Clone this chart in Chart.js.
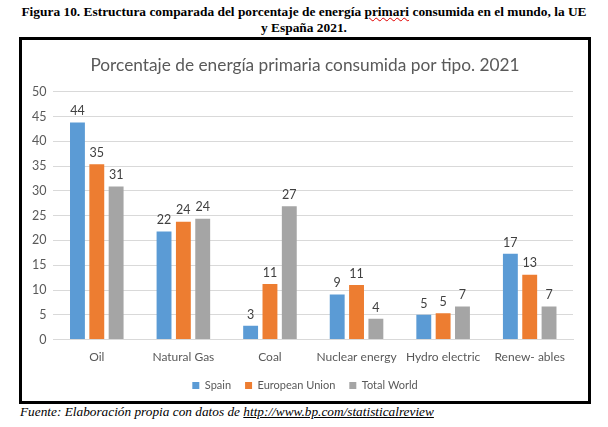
<!DOCTYPE html>
<html>
<head>
<meta charset="utf-8">
<script src="https://cdn.jsdelivr.net/npm/chart.js@4.4.1/dist/chart.umd.min.js"></script>
<style>
    body { margin: 0; background: #fff; width: 608px; height: 427px; position: relative; overflow: hidden; }
    #fig-title {
        position: absolute; top: 4px; left: 0; width: 608px;
        text-align: center; font: bold 13.4px "Liberation Serif", serif; line-height: 16px; color: #000;
    }
    #fig-title .typo { text-decoration: underline wavy #e00000; text-decoration-thickness: 1px; }
    #box {
        position: absolute; left: 19px; top: 37px; width: 566px; height: 361px;
        border: 3px solid #000; background: #fff;
    }
    #source {
        position: absolute; left: 20px; top: 404px;
        font: italic 13.3px "Liberation Serif", serif; color: #000;
    }
    #source span { text-decoration: underline; }
</style>
</head>
<body>
<div id="fig-title">Figura 10. Estructura comparada del porcentaje de energía <span class="typo">primari</span> consumida en el mundo, la UE<br>y España 2021.</div>
<div id="box"><canvas id="energyChart" width="566" height="361"></canvas></div>
<div id="source">Fuente: Elaboración propia con datos de <span>http://www.bp.com/statisticalreview</span></div>

<script>
// Data (percent of primary energy, 2021)
const categories = ['Oil', 'Natural Gas', 'Coal', 'Nuclear energy', 'Hydro electric', 'Renew- ables'];
const spain = [43.8, 21.8, 2.8, 9.1, 5.0, 17.3];
const europeanUnion = [35.4, 23.8, 11.2, 11.0, 5.3, 13.1];
const totalWorld = [30.9, 24.4, 26.9, 4.2, 6.7, 6.7];
const yTicks = [0, 5, 10, 15, 20, 25, 30, 35, 40, 45, 50];

const fontFamily = 'Lato, "Open Sans", sans-serif';
const textGrey = '#595959';

// Small plugin: rounded value above each bar
const valueLabels = {
    id: 'valueLabels',
    afterDatasetsDraw(chart) {
        const ctx = chart.ctx;
        ctx.save();
        ctx.font = '12.5px ' + fontFamily;
        ctx.fillStyle = '#404040';
        ctx.textAlign = 'center';
        ctx.textBaseline = 'bottom';
        chart.data.datasets.forEach((ds, i) => {
            chart.getDatasetMeta(i).data.forEach((bar, j) => {
                ctx.fillText(Math.round(ds.data[j]), bar.x, bar.y - 5);
            });
        });
        ctx.restore();
    }
};

// Center title and legend on the whole canvas, like the Excel original
const centerBlocks = {
    id: 'centerBlocks',
    afterLayout(chart) {
        [chart.titleBlock, chart.legend].forEach(block => {
            if (block) {
                block.left = 0;
                block.right = chart.width;
                block.width = chart.width;
            }
        });
    }
};

const ctx = document.getElementById('energyChart').getContext('2d');

new Chart(ctx, {
    type: 'bar',
    data: {
        labels: categories,
        datasets: [
            { label: 'Spain', data: spain, backgroundColor: '#5B9BD5' },
            { label: 'European Union', data: europeanUnion, backgroundColor: '#ED7D31' },
            { label: 'Total World', data: totalWorld, backgroundColor: '#A5A5A5' }
        ]
    },
    options: {
        responsive: false,
        animation: false,
        categoryPercentage: 0.67,
        barPercentage: 0.77,
        layout: { padding: { top: 15, right: 15, left: 3, bottom: 0 } },
        plugins: {
            title: {
                display: true,
                text: 'Porcentaje de energía primaria consumida por tipo. 2021',
                color: textGrey,
                font: { family: fontFamily, size: 17.3, weight: 'normal' },
                padding: { top: 0, bottom: 16 }
            },
            legend: {
                position: 'bottom',
                labels: {
                    color: textGrey,
                    boxWidth: 7,
                    boxHeight: 7,
                    padding: 14,
                    font: { family: fontFamily, size: 11 }
                }
            },
            tooltip: { enabled: false }
        },
        scales: {
            x: {
                grid: { display: false },
                border: { color: '#D9D9D9' },
                ticks: {
                    color: textGrey,
                    font: { family: fontFamily, size: 12 },
                    padding: 2,
                    maxRotation: 0,
                    autoSkip: false
                }
            },
            y: {
                min: 0,
                max: 50,
                afterBuildTicks(axis) { axis.ticks = yTicks.map(v => ({ value: v })); },
                grid: { color: '#D9D9D9', drawTicks: false },
                border: { display: false },
                ticks: { color: textGrey, font: { family: fontFamily, size: 12.5 }, padding: 7 }
            }
        }
    },
    plugins: [valueLabels, centerBlocks]
});
</script>
</body>
</html>
